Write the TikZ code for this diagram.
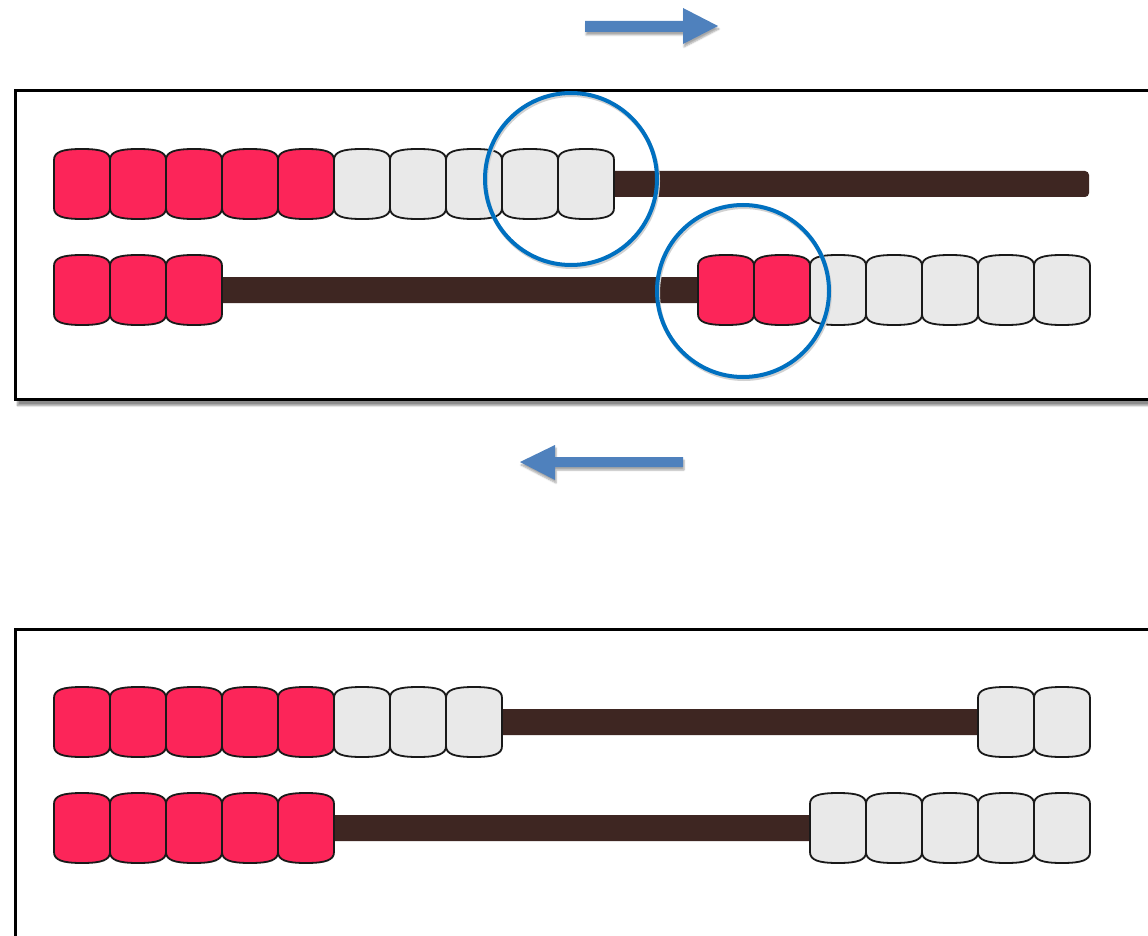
\documentclass[tikz,border=0pt]{standalone}
\usetikzlibrary{shadows.blur}
\definecolor{beadred}{RGB}{252,37,89}
\definecolor{beadwhite}{RGB}{233,233,233}
\definecolor{rodbrown}{RGB}{62,38,34}
\definecolor{ringblue}{RGB}{0,112,192}
\definecolor{arrowblue}{RGB}{79,129,189}
\tikzset{
  x=1pt, y=-1pt,
  frame/.style={draw=black, line width=3pt, fill=white,
    blur shadow={shadow xshift=2pt, shadow yshift=-6pt, shadow blur steps=8, shadow opacity=45}},
  rod/.style={fill=rodbrown, rounded corners=4pt},
  redbead/.style={fill=beadred, draw=black!90, line width=1.8pt},
  whitebead/.style={fill=beadwhite, draw=black!90, line width=1.8pt},
  ring/.style={circle, draw=ringblue, line width=4pt, minimum size=172pt, inner sep=0pt},
  ringshade/.style={circle, draw=black!18, line width=4pt, minimum size=172pt, inner sep=0pt},
  movearrow/.style={fill=arrowblue,
    blur shadow={shadow xshift=1pt, shadow yshift=-3pt, shadow blur steps=5, shadow opacity=35}},
  pics/bead/.style={code={
    \path[pic actions] (-28,-24) -- (-28,24)
      .. controls (-28,32) and (-20,35) .. (0,35)
      .. controls (20,35) and (28,32) .. (28,24) -- (28,-24)
      .. controls (28,-32) and (20,-35) .. (0,-35)
      .. controls (-20,-35) and (-28,-32) .. (-28,-24) -- cycle;
  }}
}
\begin{document}
\begin{tikzpicture}
\useasboundingbox (0,0) rectangle (1148,936);
\clip (0,0) rectangle (1148,936);

% direction arrows
\path[movearrow] (585,21) -- (683,21) -- (683,8) -- (718,26) -- (683,44)
  -- (683,32) -- (585,32) -- cycle;
\path[movearrow] (683,457) -- (555,457) -- (555,445) -- (520,462) -- (555,480)
  -- (555,467) -- (683,467) -- cycle;

% upper frame: before the exchange
\node[frame, minimum width=1180pt, minimum height=309pt, anchor=north west,
  inner sep=0pt] (topframe) at (14,89) {};

% row 1: 5 red + 5 white pushed left
\fill[rod] (600,171) rectangle (1089,197);
\foreach \i in {0,...,4} \pic[redbead] at (82+56*\i,184) {bead};
\foreach \i in {5,...,9} \pic[whitebead] at (82+56*\i,184) {bead};

% row 2: 3 red on the left, 2 red + 5 white on the right
\fill[rod] (210,277) rectangle (712,303);
\foreach \i in {0,...,2} \pic[redbead] at (82+56*\i,290) {bead};
\foreach \i in {0,1} \pic[redbead] at (726+56*\i,290) {bead};
\foreach \i in {2,...,6} \pic[whitebead] at (726+56*\i,290) {bead};

% highlighted beads, with a faint offset stroke as shadow
\node[ringshade] at (572,181) {};
\node[ringshade] at (744,293) {};
\node[ring] (ringa) at (571,179) {};
\node[ring] (ringb) at (743,291) {};

% lower frame: after the exchange
\node[frame, minimum width=1180pt, minimum height=320pt, anchor=north west,
  inner sep=0pt] (bottomframe) at (14,628) {};

% row 1: 5 red + 3 white left, 2 white right
\fill[rod] (490,709) rectangle (990,735);
\foreach \i in {0,...,4} \pic[redbead] at (82+56*\i,722) {bead};
\foreach \i in {5,...,7} \pic[whitebead] at (82+56*\i,722) {bead};
\foreach \i in {0,1} \pic[whitebead] at (1006+56*\i,722) {bead};

% row 2: 5 red left, 5 white right
\fill[rod] (320,815) rectangle (822,841);
\foreach \i in {0,...,4} \pic[redbead] at (82+56*\i,828) {bead};
\foreach \i in {0,...,4} \pic[whitebead] at (838+56*\i,828) {bead};
\end{tikzpicture}
\end{document}
